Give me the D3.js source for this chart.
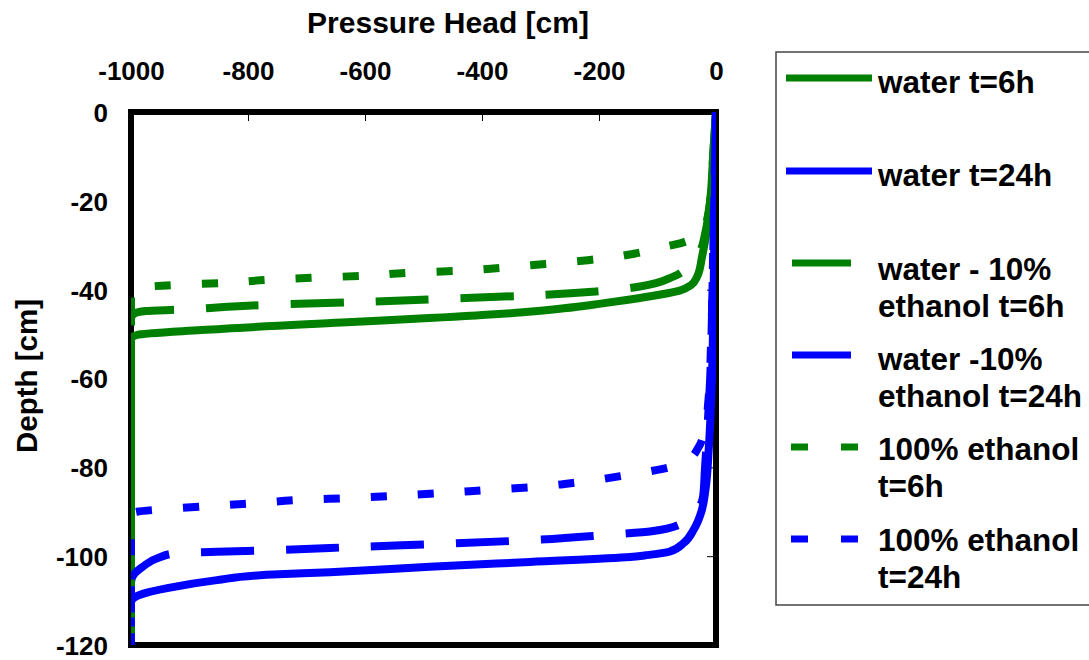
<!DOCTYPE html>
<html>
<head>
<meta charset="utf-8">
<script src="https://cdn.jsdelivr.net/npm/d3@7"></script>
<style>
body { margin: 0; background: #fff; }
svg text { font-family: "Liberation Sans", Arial, Helvetica, sans-serif; font-weight: bold; fill: #000; }
</style>
</head>
<body>
<div id="chart"></div>
<script>
// axis ticks
var pressureTicks = [-1000, -800, -600, -400, -200, 0];
var depthTicks = [0, -20, -40, -60, -80, -100, -120];

var seriesNames = [
    ["water t=6h"],
    ["water t=24h"],
    ["water - 10%", "ethanol t=6h"],
    ["water -10%", "ethanol t=24h"],
    ["100% ethanol", "t=6h"],
    ["100% ethanol", "t=24h"]
];

// [pressure head cm, depth cm]
var waterT6 = [[0, 0], [-4, -8], [-8.5, -17.8], [-15, -26], [-24, -32.7], [-32, -37], [-43, -39],
    [-62, -40.2], [-100, -41.2], [-147, -42.2], [-200, -43.2], [-260, -44.2], [-330, -45.1],
    [-490, -46.4], [-640, -47.4], [-880, -49.1], [-990, -50.2], [-1000, -51], [-1000, -120]];

var waterT24 = [[0, 0], [-2, -20], [-4, -40], [-7, -60], [-12, -75], [-18, -85], [-25, -90],
    [-38, -94], [-55, -97], [-80, -99], [-120, -99.8], [-147, -100.2], [-318, -101.3],
    [-489, -102.4], [-660, -103.6], [-768, -104.2], [-853, -105.4], [-938, -107.2],
    [-980, -108.5], [-997, -109.6], [-1000, -110.5], [-1000, -120]];

var mixT6 = [[0, 0], [-5, -10], [-10, -20], [-18, -27], [-28, -31.5], [-45, -34.5], [-72, -37],
    [-130, -39.3], [-205, -40.4], [-332, -41.4], [-473, -42.1], [-617, -42.8], [-762, -43.4],
    [-920, -44.5], [-975, -44.8], [-993, -45.3], [-1000, -46.5], [-1000, -120]];

var mixT24 = [[0, 0], [-3, -20], [-6, -40], [-10, -60], [-15, -72], [-19, -80.6], [-22, -86.5],
    [-33, -89.8], [-53, -92.3], [-110, -94.4], [-185, -95.2], [-319, -96.4], [-464, -97.2],
    [-610, -97.9], [-750, -98.6], [-853, -99], [-922, -99.3], [-954, -100.4], [-980, -102.4],
    [-997, -104.5], [-1000, -106], [-1000, -120]];

var ethanolT6 = [[0, 0], [-5, -12], [-12, -22], [-22, -26.5], [-40, -28.5], [-60, -29.5],
    [-95, -30.5], [-140, -31.9], [-215, -33.3], [-292, -34.2], [-369, -35.1], [-446, -35.8],
    [-523, -36.2], [-605, -36.9], [-688, -37.3], [-766, -37.8], [-842, -38.5], [-920, -38.9],
    [-993, -39.8], [-1000, -40.5], [-1000, -120]];

var ethanolT24 = [[0, 0], [-4, -25], [-8, -50], [-13, -65], [-20, -72], [-30, -75.5],
    [-50, -78.5], [-80, -80], [-155, -81.8], [-232, -83.3], [-310, -84.4], [-391, -85.1],
    [-470, -85.8], [-548, -86.4], [-626, -86.9], [-704, -87.3], [-783, -88], [-862, -88.7],
    [-942, -89.4], [-990, -90], [-1000, -90.5], [-1000, -120]];

var seriesData = [waterT6, waterT24, mixT6, mixT24, ethanolT6, ethanolT24];

var green = "#008000", blue = "#0000ff";
var seriesColor = [green, blue, green, blue, green, blue];
var seriesDash = [null, null, "53,32", "53,32", "16,31", "16,31"];

var width = 1089,
    height = 660;
var plot = {left: 131, right: 716, top: 112, bottom: 645};

var x = d3.scaleLinear().domain([-1000, 0]).range([plot.left, plot.right]);
var y = d3.scaleLinear().domain([0, -120]).range([plot.top, plot.bottom]);

// plain hyphen minus, no thousands comma
var plainFormat = function(d) { return String(d); };

var svg = d3.select("#chart").append("svg")
    .attr("width", width)
    .attr("height", height);

svg.append("defs").append("clipPath")
    .attr("id", "plot-clip")
    .append("rect")
    .attr("x", plot.left)
    .attr("y", plot.top)
    .attr("width", plot.right - plot.left)
    .attr("height", plot.bottom - plot.top);

// frame
svg.append("rect")
    .attr("x", plot.left)
    .attr("y", plot.top)
    .attr("width", plot.right - plot.left)
    .attr("height", plot.bottom - plot.top)
    .attr("fill", "none")
    .attr("stroke", "#000")
    .attr("stroke-width", 6);

// tick labels outside
var xAxis = svg.append("g")
    .attr("transform", "translate(0," + plot.top + ")")
    .call(d3.axisTop(x).tickValues(pressureTicks).tickSize(0).tickPadding(32).tickFormat(plainFormat));
xAxis.select(".domain").remove();
xAxis.selectAll("text").style("font-size", "26px");

var yAxis = svg.append("g")
    .attr("transform", "translate(" + plot.left + ",0)")
    .call(d3.axisLeft(y).tickValues(depthTicks).tickSize(0).tickPadding(23).tickFormat(plainFormat));
yAxis.select(".domain").remove();
yAxis.selectAll("text").style("font-size", "26px").attr("dy", "0.36em");

// small inner ticks
var xInner = svg.append("g")
    .attr("transform", "translate(0," + (plot.top + 3) + ")")
    .call(d3.axisBottom(x).tickValues(pressureTicks.slice(1, -1)).tickSize(6).tickFormat(""));
xInner.select(".domain").remove();

var yInner = svg.append("g")
    .attr("transform", "translate(" + (plot.right - 3) + ",0)")
    .call(d3.axisLeft(y).tickValues(depthTicks.slice(1, -1)).tickSize(6).tickFormat(""));
yInner.select(".domain").remove();

// axis titles
svg.append("text")
    .attr("x", 448)
    .attr("y", 33)
    .attr("text-anchor", "middle")
    .style("font-size", "30px")
    .text("Pressure Head [cm]");

svg.append("text")
    .attr("transform", "translate(37,376) rotate(-90)")
    .attr("text-anchor", "middle")
    .style("font-size", "29.5px")
    .text("Depth [cm]");

// curves
var line = d3.line()
    .x(function(d) { return x(d[0]); })
    .y(function(d) { return y(d[1]); })
    .curve(d3.curveMonotoneY);

var curves = svg.append("g").attr("clip-path", "url(#plot-clip)");
for (var i = 0; i < seriesData.length; i++) {
    curves.append("path")
        .attr("d", line(seriesData[i]))
        .attr("fill", "none")
        .attr("stroke", seriesColor[i])
        .attr("stroke-width", 8)
        .attr("stroke-dasharray", seriesDash[i]);
}

// legend
var legend = svg.append("g");
legend.append("rect")
    .attr("x", 776)
    .attr("y", 52)
    .attr("width", 330)
    .attr("height", 553)
    .attr("fill", "#fff")
    .attr("stroke", "#444")
    .attr("stroke-width", 1.5);

var legendLineY = [78, 171, 263, 355, 447, 539];
var legendTextY = [93, 186, 280, 370, 460, 551];
var legendSample = [[786, 872], [786, 872], [792, 851], [792, 851], [791, 859], [791, 859]];
var legendDash = [null, null, null, null, "17,33", "17,33"];

for (var i = 0; i < seriesNames.length; i++) {
    legend.append("line")
        .attr("x1", legendSample[i][0])
        .attr("x2", legendSample[i][1])
        .attr("y1", legendLineY[i])
        .attr("y2", legendLineY[i])
        .attr("stroke", seriesColor[i])
        .attr("stroke-width", 7)
        .attr("stroke-dasharray", legendDash[i]);

    var t = legend.append("text")
        .attr("x", 878)
        .attr("y", legendTextY[i])
        .style("font-size", "31.5px");
    seriesNames[i].forEach(function(s, j) {
        t.append("tspan")
            .attr("x", 878)
            .attr("dy", j == 0 ? 0 : 37)
            .text(s);
    });
}
</script>
</body>
</html>
